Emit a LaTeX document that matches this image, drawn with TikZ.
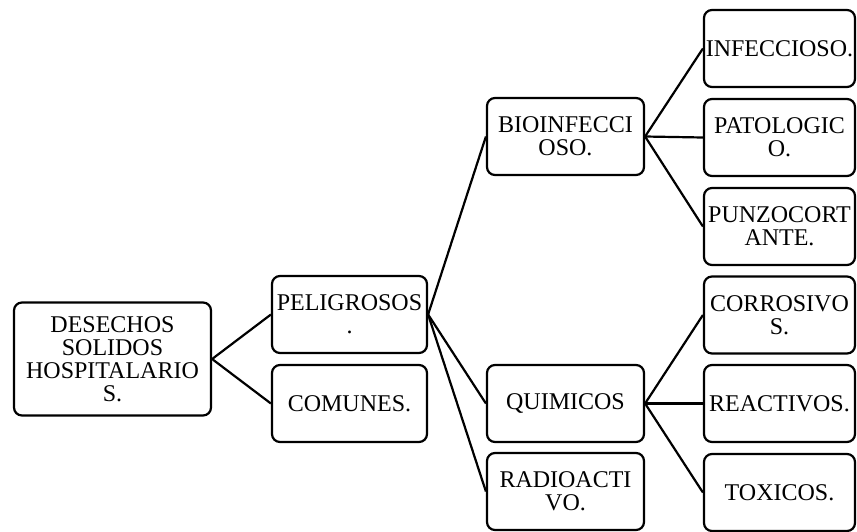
\documentclass[tikz,border=0pt]{standalone}
\usepackage{fontspec}
\setmainfont{Liberation Serif}
\begin{document}
\begin{tikzpicture}[x=1pt,y=-1pt,
  box/.style={draw=black,line width=2.2pt,rounded corners=8pt,fill=white,
    align=center,inner sep=1pt,
    font=\fontsize{24}{23}\selectfont},
  link/.style={draw=black,line width=2.2pt}]
\useasboundingbox (0,0) rectangle (857,531);
% level 0
\node[box,minimum width=197pt,minimum height=113pt] (root) at (112.5,359) {DESECHOS\\SOLIDOS\\HOSPITALARIO\\S.};
% level 1
\node[box,minimum width=155pt,minimum height=77pt] (pel) at (349.5,314.5) {PELIGROSOS\\.};
\node[box,minimum width=155pt,minimum height=77pt] (com) at (349.5,403.5) {COMUNES.};
% level 2
\node[box,minimum width=157pt,minimum height=77pt] (bio) at (565.5,136.5) {BIOINFECCI\\OSO.};
\node[box,minimum width=157pt,minimum height=77pt] (qui) at (565.5,403.5) {QUIMICOS};
\node[box,minimum width=157pt,minimum height=77pt] (rad) at (565.5,491.5) {RADIOACTI\\VO.};
% level 3
\node[box,minimum width=151pt,minimum height=77pt] (inf) at (779.5,48.5) {INFECCIOSO.};
\node[box,minimum width=151pt,minimum height=77pt] (pat) at (779.5,137.5) {PATOLOGIC\\O.};
\node[box,minimum width=151pt,minimum height=77pt] (pun) at (779.5,226.5) {PUNZOCORT\\ANTE.};
\node[box,minimum width=151pt,minimum height=77pt] (cor) at (779.5,315) {CORROSIVO\\S.};
\node[box,minimum width=151pt,minimum height=77pt] (rea) at (779.5,403.5) {REACTIVOS.};
\node[box,minimum width=151pt,minimum height=77pt] (tox) at (779.5,492.5) {TOXICOS.};
% connectors
\draw[link] (root.east) -- (pel.west);
\draw[link] (root.east) -- (com.west);
\draw[link] (pel.east) -- (bio.west);
\draw[link] (pel.east) -- (qui.west);
\draw[link] (pel.east) -- (rad.west);
\draw[link] (bio.east) -- (inf.west);
\draw[link] (bio.east) -- (pat.west);
\draw[link] (bio.east) -- (pun.west);
\draw[link] (qui.east) -- (cor.west);
\draw[link] (qui.east) -- (rea.west);
\draw[link] (qui.east) -- (tox.west);
\end{tikzpicture}
\end{document}
